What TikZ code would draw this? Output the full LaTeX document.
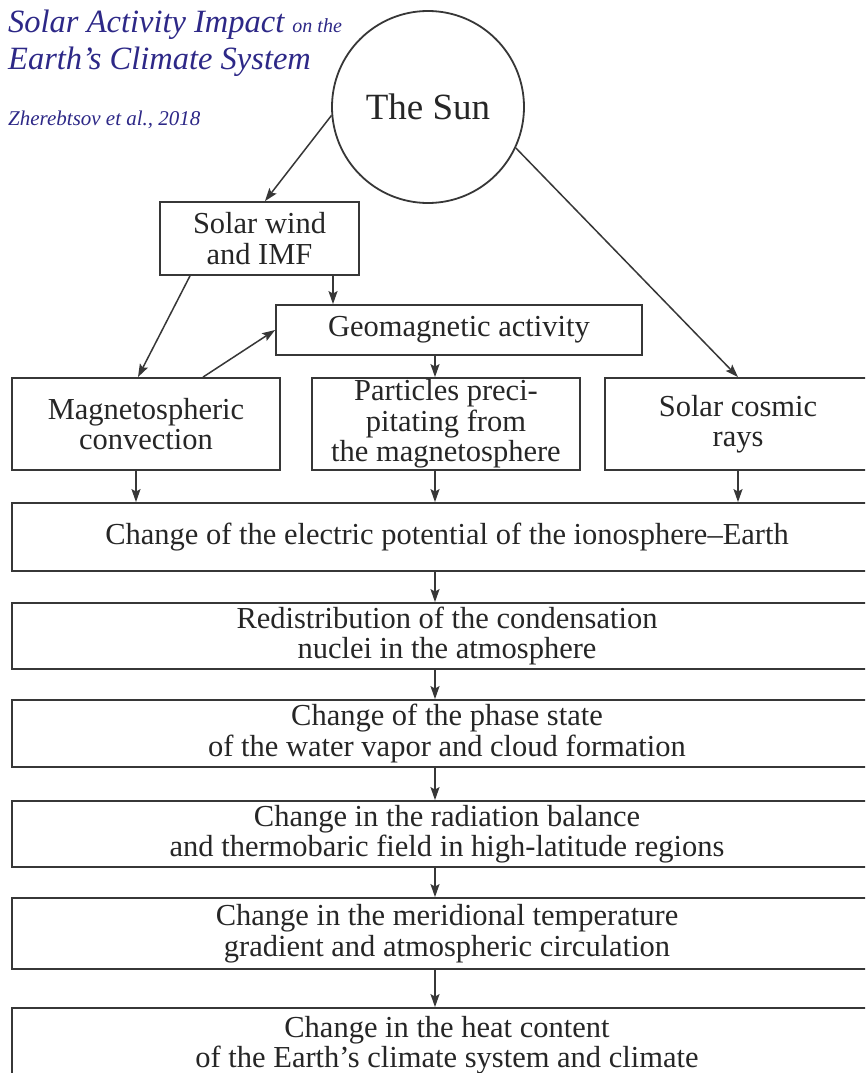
\documentclass[tikz,border=0pt]{standalone}
\usepackage{fontspec}
\setmainfont{Liberation Serif}
\usetikzlibrary{arrows.meta}
\definecolor{titleblue}{RGB}{45,40,135}
\definecolor{ln}{RGB}{55,55,55}
\tikzset{
 box/.style={draw=ln, line width=1.8pt, rectangle, inner sep=0pt, align=center,
   font=\fontsize{30.5}{30.5}\selectfont, text=black!85},
 wide/.style={box, minimum width=870pt},
 arr/.style={draw=ln, line width=1.5pt, -{Stealth[length=13pt,width=9pt,inset=2.5pt]}},
 ttl/.style={text=titleblue, anchor=base west, inner sep=0pt},
}
\begin{document}
\begin{tikzpicture}[x=1pt,y=-1pt]
\useasboundingbox (0,0) rectangle (865,1073);
\clip (0,0) rectangle (865,1073);
\fill[white] (0,0) rectangle (865,1073);

% title
\node[ttl, font=\itshape\fontsize{32.5}{34}\selectfont] (t1) at (8,33) {Solar Activity Impact {\fontsize{20}{20}\selectfont on the}};
\node[ttl, font=\itshape\fontsize{32.5}{34}\selectfont] (t2) at (8,70) {Earth’s Climate System};
\node[ttl, font=\itshape\fontsize{21}{22}\selectfont] (t3) at (8,125) {Zherebtsov et al., 2018};

% sun
\node[circle, draw=ln, line width=1.8pt, minimum size=192pt, inner sep=0pt,
  font=\fontsize{37}{40}\selectfont, text=black!85] (sun) at (428,107) {The Sun};

% upper boxes
\node[box, minimum width=199pt, minimum height=73pt] (wind) at (259.5,238.5) {Solar wind\\and IMF};
\node[box, minimum width=366pt, minimum height=50pt] (geo) at (459,330) {Geomagnetic activity};
\node[box, minimum width=268pt, minimum height=92pt] (mag) at (146,424) {Magnetospheric\\convection};
\node[box, minimum width=268pt, minimum height=92pt] (part) at (446,424) {Particles preci-\\pitating from\\the magnetosphere};
\node[box, minimum width=266pt, minimum height=92pt] (cosmic) at (738,424) {Solar cosmic\\rays};

% chain boxes
\node[wide, minimum height=68pt] (elec) at (447,537) {Change of the electric potential of the ionosphere\textendash Earth};
\node[wide, minimum height=66pt] (redis) at (447,636) {Redistribution of the condensation\\nuclei in the atmosphere};
\node[wide, minimum height=67pt] (phase) at (447,733.5) {Change of the phase state\\of the water vapor and cloud formation};
\node[wide, minimum height=66pt] (rad) at (447,834) {Change in the radiation balance\\and thermobaric field in high-latitude regions};
\node[wide, minimum height=71pt] (merid) at (447,933.5) {Change in the meridional temperature\\gradient and atmospheric circulation};
\node[wide, minimum height=74pt] (heat) at (447,1045) {Change in the heat content\\of the Earth’s climate system and climate};

% arrows from the sun
\draw[arr] (sun.185) -- ([xshift=5.5pt]wind.north);
\draw[arr] (sun.-25) -- (cosmic.north);

% upper arrows
\coordinate (w1) at ([xshift=73.5pt]wind.south);
\draw[arr] (w1) -- (w1 |- geo.north);
\coordinate (w2) at ([xshift=-69.5pt]wind.south);
\coordinate (m1) at ([xshift=-8pt]mag.north);
\draw[arr] (w2) -- (m1);
\coordinate (m2) at ([xshift=57pt]mag.north);
\draw[arr] (m2) -- (geo.west);
\coordinate (p1) at ([xshift=-11pt]part.north);
\draw[arr] (p1 |- geo.south) -- (p1);

% row to electric potential
\coordinate (m3) at ([xshift=-10pt]mag.south);
\draw[arr] (m3) -- (m3 |- elec.north);
\coordinate (p2) at ([xshift=-11pt]part.south);
\draw[arr] (p2) -- (p2 |- elec.north);
\coordinate (c1) at (cosmic.south);
\draw[arr] (c1) -- (c1 |- elec.north);

% chain
\coordinate (x0) at (435,0);
\draw[arr] (x0 |- elec.south) -- (x0 |- redis.north);
\draw[arr] (x0 |- redis.south) -- (x0 |- phase.north);
\draw[arr] (x0 |- phase.south) -- (x0 |- rad.north);
\draw[arr] (x0 |- rad.south) -- (x0 |- merid.north);
\draw[arr] (x0 |- merid.south) -- (x0 |- heat.north);
\end{tikzpicture}
\end{document}
